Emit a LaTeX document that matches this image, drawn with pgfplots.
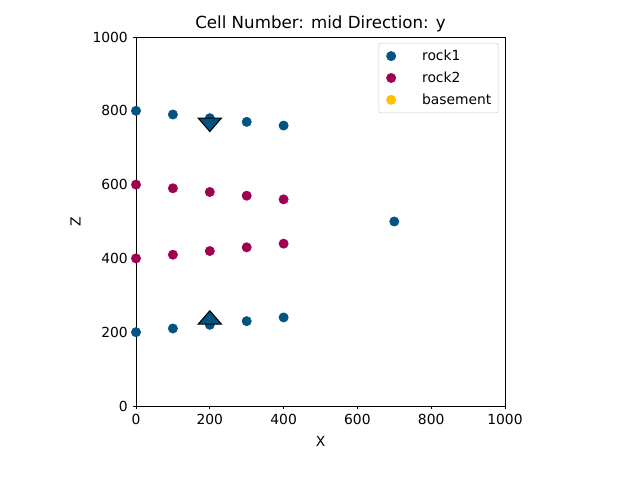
\documentclass[border=0pt]{standalone}
\usepackage{pgfplots}
\pgfplotsset{compat=1.18}
\usepackage{fontspec}
\setmainfont{DejaVu Sans}
\definecolor{rockA}{HTML}{015482}
\definecolor{rockB}{HTML}{9F0052}
\definecolor{basem}{HTML}{FFBE00}
\begin{document}
\begin{tikzpicture}
\useasboundingbox (0pt,0pt) rectangle (480pt,360pt);
\begin{axis}[
  at={(102pt,55.5pt)}, anchor=south west,
  scale only axis, width=276.75pt, height=276.75pt,
  xmin=0, xmax=1000, ymin=0, ymax=1000,
  xtick={0,200,...,1000}, ytick={0,200,...,1000},
  xtick pos=left, ytick pos=left,
  tick align=outside, tick style={black, line width=0.6pt},
  major tick length=2.6pt,
  every tick label/.style={font=\fontsize{10.4}{12}\selectfont},
  /pgf/number format/assume math mode=true,
  /pgf/number format/set thousands separator={},
  xlabel={X}, ylabel={Z},
  xlabel style={font=\fontsize{10.4}{12}\selectfont, yshift=-2pt},
  ylabel style={font=\fontsize{10.4}{12}\selectfont, yshift=2pt},
  title={Cell Number: mid Direction: y},
  title style={font=\fontsize{12.5}{15}\selectfont, yshift=-6pt},
  axis line style={line width=0.6pt},
  clip=false,
  legend style={at={(0.982,0.984)}, anchor=north east, draw=black!20, rounded corners=1.5pt,
    font=\fontsize{10.4}{12}\selectfont, row sep=3pt, inner xsep=3pt, inner ysep=3pt},
  legend cell align=left,
  legend image code/.code={\path (0pt,-3pt) (27pt,3pt); \draw[#1] plot coordinates {(6pt,0pt)};},
]
\addplot[only marks, mark=*, mark size=3.5pt, color=rockA] coordinates {
(0,800) (100,790) (200,780) (300,770) (400,760) (700,500)
(0,200) (100,210) (200,220) (300,230) (400,240)};
\addlegendentry{rock1}
\addplot[only marks, mark=*, mark size=3.5pt, color=rockB] coordinates {
(0,600) (100,590) (200,580) (300,570) (400,560)
(0,400) (100,410) (200,420) (300,430) (400,440)};
\addlegendentry{rock2}
\addlegendimage{only marks, mark=*, mark size=3.5pt, color=basem}
\addlegendentry{basement}
\addplot[only marks, mark=triangle*, mark size=6.67pt, forget plot,
  mark options={draw=black, fill=rockA, line width=0.8pt, rotate=180, xscale=1.5}] coordinates {(200,768)};
\addplot[only marks, mark=triangle*, mark size=6.67pt, forget plot,
  mark options={draw=black, fill=rockA, line width=0.8pt, xscale=1.5}] coordinates {(200,234)};
\end{axis}
\end{tikzpicture}
\end{document}
